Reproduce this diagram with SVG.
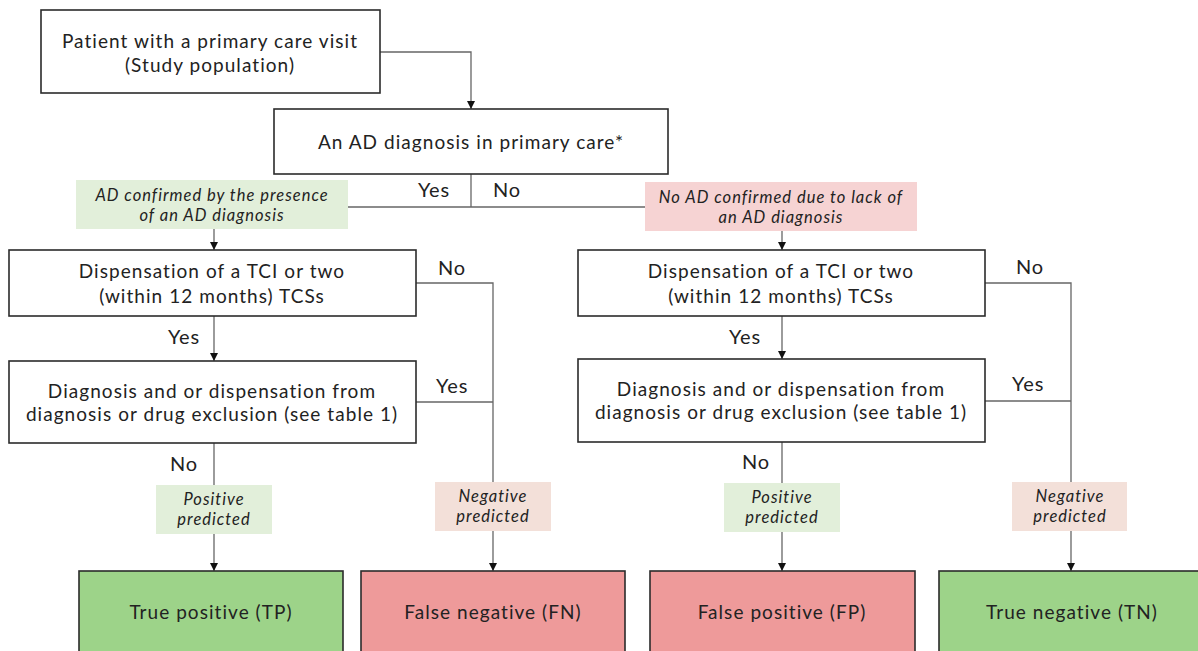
<svg xmlns="http://www.w3.org/2000/svg" width="1198" height="651" viewBox="0 0 1198 651">
<defs>
<marker id="arr" viewBox="0 0 10 10" refX="10" refY="5" markerWidth="8" markerHeight="8" markerUnits="userSpaceOnUse" orient="auto">
<path d="M0,0 L10,5 L0,10 z" fill="#111"/>
</marker>
<style>
.box{fill:#fff;stroke:#2b2b2b;stroke-width:1.6}
.t{font-family:Lato,"Open Sans","Liberation Sans",sans-serif;font-size:19px;letter-spacing:1.05px;fill:#222;text-anchor:middle}
.lbl{font-family:Lato,"Open Sans","Liberation Sans",sans-serif;font-size:20px;letter-spacing:0.9px;fill:#222}
.it{font-family:Lato,"Open Sans","Liberation Sans",sans-serif;font-size:16.5px;letter-spacing:1px;font-style:italic;fill:#222;text-anchor:middle}
.con{fill:none;stroke:#666;stroke-width:1.3}
.arrow{marker-end:url(#arr)}
.green{fill:#e2efda}
.pink{fill:#f6d3d3}
.peach{fill:#f3e0d9}
.tp{fill:#9dd389;stroke:#2b2b2b;stroke-width:1.6}
.fn{fill:#ee9a9a;stroke:#2b2b2b;stroke-width:1.6}
</style>
</defs>
<rect width="1198" height="651" fill="#fff"/>

<g id="connectors">
<path class="con arrow" d="M380,52 H471 V109"/>
<path class="con" d="M471,174 V207"/>
<path class="con" d="M348,207 H645"/>
<path class="con arrow" d="M214,229 V250"/>
<path class="con arrow" d="M782,231 V250"/>
<path class="con arrow" d="M214,316 V361"/>
<path class="con arrow" d="M782,316 V359"/>
<path class="con" d="M416,283 H493 V482"/>
<path class="con" d="M416,402 H493"/>
<path class="con" d="M985,283 H1071 V482"/>
<path class="con" d="M985,401 H1071"/>
<path class="con" d="M214,443 V485"/>
<path class="con" d="M782,442 V483"/>
<path class="con arrow" d="M214,534 V571"/>
<path class="con arrow" d="M493,531 V571"/>
<path class="con arrow" d="M782,532 V571"/>
<path class="con arrow" d="M1071,531 V571"/>
<text class="lbl" x="434" y="197" text-anchor="middle">Yes</text>
<text class="lbl" x="493" y="197">No</text>
<text class="lbl" x="438" y="275">No</text>
<text class="lbl" x="436" y="393">Yes</text>
<text class="lbl" x="184" y="344" text-anchor="middle">Yes</text>
<text class="lbl" x="170" y="471">No</text>
<text class="lbl" x="1016" y="274">No</text>
<text class="lbl" x="1012" y="391">Yes</text>
<text class="lbl" x="745" y="344" text-anchor="middle">Yes</text>
<text class="lbl" x="742" y="469">No</text>
</g>

<g id="n-patient">
<rect class="box" x="41" y="10" width="339" height="83"/>
<text class="t" x="210" y="48">Patient with a primary care visit</text>
<text class="t" x="210" y="72">(Study population)</text>
</g>

<g id="n-ad-diagnosis">
<rect class="box" x="274" y="109" width="394" height="65"/>
<text class="t" x="471" y="149">An AD diagnosis in primary care*</text>
</g>

<g id="n-ad-confirmed">
<rect class="green" x="76" y="180" width="272" height="49"/>
<text class="it" x="212" y="201">AD confirmed by the presence</text>
<text class="it" x="212" y="221">of an AD diagnosis</text>
</g>

<g id="n-no-ad">
<rect class="pink" x="645" y="182" width="272" height="49"/>
<text class="it" x="781" y="203">No AD confirmed due to lack of</text>
<text class="it" x="781" y="223">an AD diagnosis</text>
</g>

<g id="n-dispensation-left">
<rect class="box" x="9" y="250" width="407" height="66"/>
<text class="t" x="212" y="278">Dispensation of a TCI or two</text>
<text class="t" x="212" y="303">(within 12 months) TCSs</text>
</g>

<g id="n-dispensation-right">
<rect class="box" x="578" y="250" width="407" height="66"/>
<text class="t" x="781" y="278">Dispensation of a TCI or two</text>
<text class="t" x="781" y="303">(within 12 months) TCSs</text>
</g>

<g id="n-exclusion-left">
<rect class="box" x="9" y="361" width="407" height="82"/>
<text class="t" x="212" y="398">Diagnosis and or dispensation from</text>
<text class="t" x="212" y="421">diagnosis or drug exclusion (see table 1)</text>
</g>

<g id="n-exclusion-right">
<rect class="box" x="578" y="359" width="407" height="83"/>
<text class="t" x="781" y="396">Diagnosis and or dispensation from</text>
<text class="t" x="781" y="419">diagnosis or drug exclusion (see table 1)</text>
</g>

<g id="n-pos-pred-left">
<rect class="green" x="156" y="485" width="116" height="49"/>
<text class="it" x="214" y="505">Positive</text>
<text class="it" x="214" y="525">predicted</text>
</g>

<g id="n-neg-pred-left">
<rect class="peach" x="435" y="482" width="116" height="49"/>
<text class="it" x="493" y="502">Negative</text>
<text class="it" x="493" y="522">predicted</text>
</g>

<g id="n-pos-pred-right">
<rect class="green" x="724" y="483" width="116" height="49"/>
<text class="it" x="782" y="503">Positive</text>
<text class="it" x="782" y="523">predicted</text>
</g>

<g id="n-neg-pred-right">
<rect class="peach" x="1012" y="482" width="115" height="49"/>
<text class="it" x="1070" y="502">Negative</text>
<text class="it" x="1070" y="522">predicted</text>
</g>

<g id="n-tp">
<rect class="tp" x="79" y="571" width="264" height="95"/>
<text class="t" x="211" y="619">True positive (TP)</text>
</g>

<g id="n-fn">
<rect class="fn" x="361" y="571" width="264" height="95"/>
<text class="t" x="493" y="619">False negative (FN)</text>
</g>

<g id="n-fp">
<rect class="fn" x="650" y="571" width="265" height="95"/>
<text class="t" x="782" y="619">False positive (FP)</text>
</g>

<g id="n-tn">
<rect class="tp" x="939" y="571" width="270" height="95"/>
<text class="t" x="1072" y="619">True negative (TN)</text>
</g>
</svg>
